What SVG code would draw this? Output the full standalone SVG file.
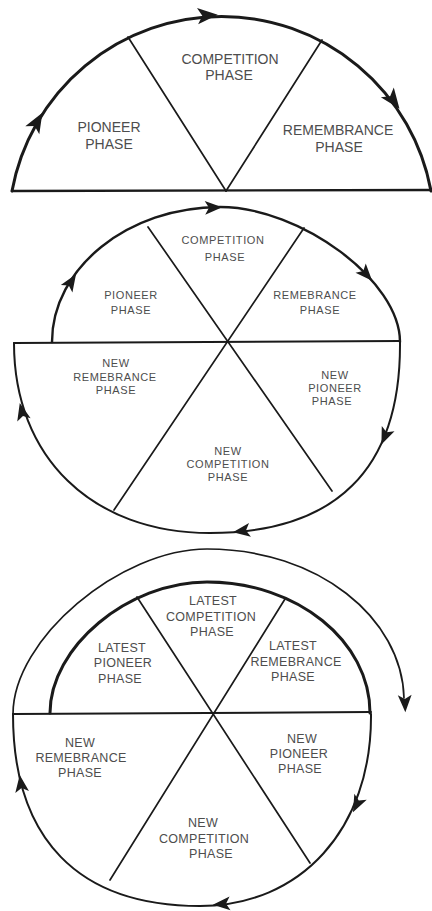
<svg xmlns="http://www.w3.org/2000/svg" width="432" height="911" viewBox="0 0 432 911">
<style>
.bg{fill:#ffffff}
.ln{fill:none;stroke:#1a1a1a;stroke-linecap:round;stroke-linejoin:round}
.w3{stroke-width:3}
.w25{stroke-width:2.4}
.w2{stroke-width:2}
.w18{stroke-width:1.7}
.ah{fill:#1a1a1a}
.t{font-family:"Liberation Sans",Arial,Helvetica,sans-serif;fill:#4d4d4d;text-anchor:middle}
.f1{font-size:14px}
.f2{font-size:11px;letter-spacing:0.6px}
.f3{font-size:12.5px;letter-spacing:0.3px}
</style>
<defs>
<path id="ah" d="M8,0 L-7,-6 L-3.5,0 L-7,6 Z"/>
</defs>
<rect class="bg" x="0" y="0" width="432" height="911"/>

<!-- frames: base lines and dividers -->
<g id="frames">
  <!-- top figure -->
  <line class="ln w25" x1="12" y1="191" x2="431" y2="190"/>
  <line class="ln w18" x1="128" y1="37" x2="226" y2="191"/>
  <line class="ln w18" x1="322" y1="40" x2="226" y2="191"/>
  <!-- middle figure -->
  <line class="ln w2" x1="14" y1="343" x2="400" y2="341"/>
  <line class="ln w18" x1="148" y1="227" x2="332" y2="491"/>
  <line class="ln w18" x1="304" y1="228" x2="114" y2="510"/>
  <!-- bottom figure -->
  <line class="ln w2" x1="13" y1="714" x2="371" y2="712"/>
  <line class="ln w18" x1="137" y1="597" x2="310" y2="863"/>
  <line class="ln w18" x1="285" y1="599" x2="110" y2="880"/>
</g>

<!-- connectors: arrowed cycle arcs -->
<g id="connectors">
  <!-- top figure -->
  <path class="ln w3" d="M12,191 A213,213 0 0 1 431,191"/>
  <use href="#ah" class="ah" transform="translate(207,15.5) rotate(-4) scale(1.35)"/>
  <use href="#ah" class="ah" transform="translate(393,100) rotate(53) scale(1.35)"/>
  <use href="#ah" class="ah" transform="translate(37,122) rotate(-60) scale(1.35)"/>
  <!-- middle figure -->
  <path class="ln w25" d="M52,342 C52,268 128,207 220,207 C301,207 400,281 400,342"/>
  <path class="ln w2" d="M400,342 C401,470 335,533 210,533 C92,533 14,457 14,343"/>
  <use href="#ah" class="ah" transform="translate(213,207.5) rotate(-2) scale(1.15)"/>
  <use href="#ah" class="ah" transform="translate(366,274) rotate(48) scale(1.15)"/>
  <use href="#ah" class="ah" transform="translate(385,436) rotate(113) scale(1.15)"/>
  <use href="#ah" class="ah" transform="translate(242,531) rotate(172) scale(1.15)"/>
  <use href="#ah" class="ah" transform="translate(22,412) rotate(-104) scale(1.15)"/>
  <use href="#ah" class="ah" transform="translate(71,282) rotate(-57) scale(1.15)"/>
  <!-- bottom figure -->
  <path class="ln w3" d="M50,713 C50,647 128,582 207,582 C297,582 370,641 370,713"/>
  <path class="ln w18" d="M13,714 C13,639 120,549 207,549 C318,549 402,618 404,698"/>
  <path class="ln w2" d="M371,714 C372,830 300,906 200,906 C78,906 13,839 13,714"/>
  <use href="#ah" class="ah" transform="translate(405,703) rotate(88) scale(1.15)"/>
  <use href="#ah" class="ah" transform="translate(357,804) rotate(116) scale(1.15)"/>
  <use href="#ah" class="ah" transform="translate(222,904) rotate(176) scale(1.15)"/>
  <use href="#ah" class="ah" transform="translate(21,784) rotate(-98) scale(1.15)"/>
</g>

<!-- top figure phases -->
<g id="top-pioneer"><text class="t f1" x="109" y="132">PIONEER</text><text class="t f1" x="109" y="149">PHASE</text></g>
<g id="top-competition"><text class="t f1" x="230" y="64">COMPETITION</text><text class="t f1" x="229" y="80">PHASE</text></g>
<g id="top-remembrance"><text class="t f1" x="338" y="135">REMEMBRANCE</text><text class="t f1" x="339" y="152">PHASE</text></g>

<!-- middle figure phases -->
<g id="mid-pioneer"><text class="t f2" x="131" y="299">PIONEER</text><text class="t f2" x="131" y="314">PHASE</text></g>
<g id="mid-competition"><text class="t f2" x="223" y="244">COMPETITION</text><text class="t f2" x="225" y="261">PHASE</text></g>
<g id="mid-remebrance"><text class="t f2" x="315" y="299">REMEBRANCE</text><text class="t f2" x="320" y="314">PHASE</text></g>
<g id="mid-new-remebrance"><text class="t f2" x="116" y="367">NEW</text><text class="t f2" x="115" y="381">REMEBRANCE</text><text class="t f2" x="116" y="394">PHASE</text></g>
<g id="mid-new-pioneer"><text class="t f2" x="335" y="379">NEW</text><text class="t f2" x="335" y="392">PIONEER</text><text class="t f2" x="332" y="405">PHASE</text></g>
<g id="mid-new-competition"><text class="t f2" x="228" y="455">NEW</text><text class="t f2" x="228" y="468">COMPETITION</text><text class="t f2" x="228" y="481">PHASE</text></g>

<!-- bottom figure phases -->
<g id="bot-latest-competition"><text class="t f3" x="213" y="605">LATEST</text><text class="t f3" x="211" y="621">COMPETITION</text><text class="t f3" x="212" y="636">PHASE</text></g>
<g id="bot-latest-pioneer"><text class="t f3" x="122" y="652">LATEST</text><text class="t f3" x="123" y="667">PIONEER</text><text class="t f3" x="120" y="683">PHASE</text></g>
<g id="bot-latest-remebrance"><text class="t f3" x="293" y="650">LATEST</text><text class="t f3" x="296" y="666">REMEBRANCE</text><text class="t f3" x="293" y="681">PHASE</text></g>
<g id="bot-new-remebrance"><text class="t f3" x="80" y="747">NEW</text><text class="t f3" x="81" y="762">REMEBRANCE</text><text class="t f3" x="80" y="777">PHASE</text></g>
<g id="bot-new-pioneer"><text class="t f3" x="302" y="743">NEW</text><text class="t f3" x="299" y="758">PIONEER</text><text class="t f3" x="300" y="773">PHASE</text></g>
<g id="bot-new-competition"><text class="t f3" x="203" y="827">NEW</text><text class="t f3" x="204" y="843">COMPETITION</text><text class="t f3" x="211" y="858">PHASE</text></g>
</svg>
